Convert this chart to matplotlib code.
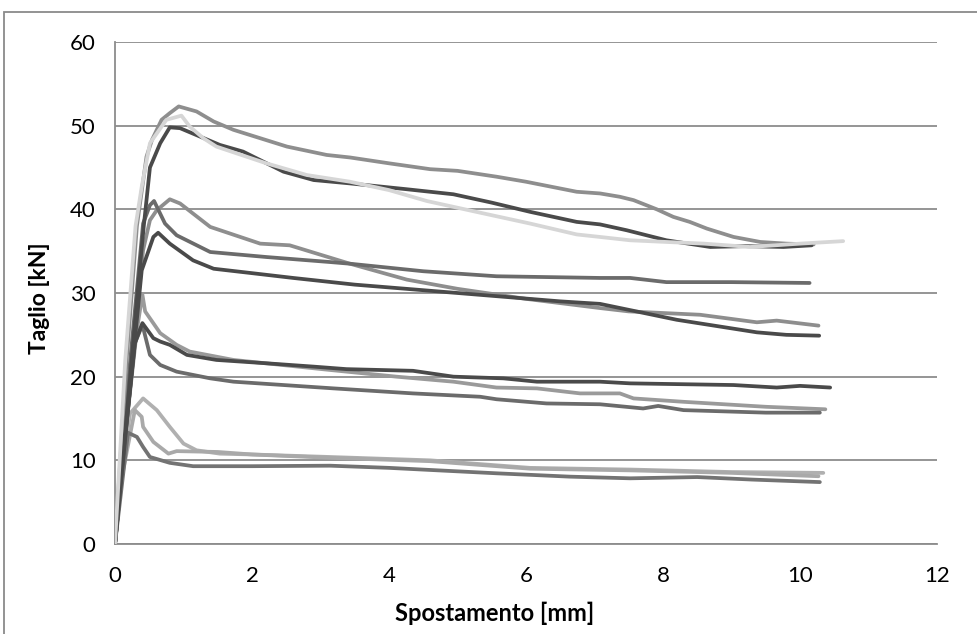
import matplotlib
matplotlib.use("Agg")
import matplotlib.pyplot as plt
from matplotlib.patches import Rectangle

# Shear (kN) vs displacement (mm) curves for twelve specimens
a_x = [0, 0.17, 0.32, 0.46, 0.54, 0.68, 0.8, 0.93, 1.19, 1.44, 1.73, 2.12, 2.51, 3.09, 3.43, 4.0, 4.6, 5.0, 5.57, 6.0, 6.74, 7.08, 7.37, 7.57, 7.91, 8.15, 8.39, 8.64, 9.03, 9.42, 9.8, 10.2]
a_y = [0, 22, 38, 46.3, 48.3, 50.7, 51.5, 52.3, 51.7, 50.5, 49.5, 48.5, 47.5, 46.5, 46.2, 45.5, 44.8, 44.6, 43.9, 43.3, 42.1, 41.9, 41.5, 41.1, 40.0, 39.1, 38.5, 37.7, 36.7, 36.1, 35.9, 35.8]

b_x = [0, 0.2, 0.34, 0.42, 0.51, 0.66, 0.8, 0.95, 1.24, 1.53, 1.87, 2.46, 2.9, 3.43, 4.26, 4.94, 5.5, 6.06, 6.74, 7.08, 7.47, 8.05, 8.69, 9.2, 9.76, 10.17]
b_y = [0, 18, 31, 38, 45, 47.9, 49.8, 49.7, 48.7, 47.7, 46.9, 44.5, 43.5, 43.1, 42.4, 41.8, 40.8, 39.7, 38.5, 38.2, 37.5, 36.3, 35.5, 35.6, 35.5, 35.7]

c_x = [0, 0.15, 0.3, 0.39, 0.51, 0.75, 0.97, 1.09, 1.29, 1.48, 2.21, 2.8, 3.43, 4.0, 4.55, 5.33, 6.06, 6.74, 7.08, 7.52, 8.05, 8.6, 9.27, 10.0, 10.63]
c_y = [0, 22, 38, 42.7, 47.9, 50.7, 51.2, 49.9, 48.5, 47.5, 45.5, 44.1, 43.3, 42.3, 41.0, 39.6, 38.3, 37.0, 36.7, 36.3, 36.1, 35.9, 35.5, 35.9, 36.2]

d_x = [0, 0.2, 0.41, 0.51, 0.61, 0.8, 0.95, 1.39, 2.12, 2.55, 3.43, 4.26, 5.0, 6.0, 7.08, 7.5, 8.54, 9.37, 9.66, 10.27]
d_y = [0, 18, 35.1, 38.7, 39.9, 41.2, 40.7, 37.9, 35.9, 35.7, 33.5, 31.6, 30.5, 29.3, 28.2, 27.8, 27.4, 26.5, 26.7, 26.1]

e_x = [0, 0.2, 0.41, 0.51, 0.57, 0.73, 0.9, 1.39, 2.21, 3.14, 3.43, 4.5, 5.57, 7.08, 7.52, 8.05, 9.0, 10.14]
e_y = [0, 20, 38.3, 40.5, 41.0, 38.3, 36.9, 34.9, 34.3, 33.7, 33.5, 32.6, 32.0, 31.8, 31.8, 31.3, 31.3, 31.2]

f_x = [0, 0.2, 0.39, 0.56, 0.63, 0.8, 1.14, 1.44, 1.97, 2.6, 3.5, 5.0, 6.5, 7.08, 8.2, 9.37, 9.8, 10.28]
f_y = [0, 17, 32.7, 36.7, 37.2, 35.9, 33.9, 32.9, 32.4, 31.8, 31.0, 30.0, 29.0, 28.7, 26.8, 25.3, 25.0, 24.9]

g_x = [0, 0.15, 0.32, 0.4, 0.44, 0.66, 0.9, 1.09, 1.73, 3.14, 4.11, 4.94, 5.57, 6.16, 6.79, 7.08, 7.37, 7.57, 8.29, 9.5, 10.37]
g_y = [0, 13, 25.6, 29.8, 27.8, 25.2, 23.8, 23.0, 22.0, 20.8, 20.0, 19.4, 18.7, 18.6, 18.0, 18.0, 18.0, 17.4, 17.0, 16.4, 16.1]

h_x = [0, 0.15, 0.29, 0.4, 0.56, 0.66, 0.8, 1.05, 1.48, 2.21, 2.9, 3.38, 4.35, 4.94, 5.67, 6.16, 7.08, 7.52, 9.03, 9.66, 10.0, 10.44]
h_y = [0, 13, 24.0, 26.4, 24.6, 24.2, 23.8, 22.6, 22.0, 21.6, 21.2, 20.9, 20.7, 20.0, 19.8, 19.4, 19.4, 19.2, 19.0, 18.7, 18.9, 18.7]

i_x = [0, 0.15, 0.29, 0.4, 0.51, 0.66, 0.9, 1.39, 1.73, 2.46, 3.19, 4.35, 5.33, 5.57, 6.3, 7.08, 7.71, 7.93, 8.3, 9.5, 10.29]
i_y = [0, 13, 24.0, 26.2, 22.6, 21.4, 20.6, 19.8, 19.4, 19.0, 18.6, 18.0, 17.6, 17.3, 16.8, 16.7, 16.2, 16.5, 16.0, 15.7, 15.7]

j_x = [0, 0.1, 0.22, 0.41, 0.61, 0.8, 1.0, 1.19, 1.53, 2.0, 3.14, 4.6, 6.06, 7.52, 9.0, 10.34]
j_y = [0, 9, 15.6, 17.4, 16.0, 14.0, 12.0, 11.2, 10.8, 10.7, 10.4, 10.0, 9.1, 8.9, 8.6, 8.5]

k_x = [0, 0.1, 0.29, 0.39, 0.41, 0.56, 0.78, 0.9, 1.5, 2.0, 3.14, 4.6, 6.06, 7.52, 9.0, 10.27]
k_y = [0, 8, 16.0, 15.2, 14.0, 12.2, 10.8, 11.1, 11.0, 10.7, 10.3, 9.9, 9.0, 8.8, 8.5, 8.1]

l_x = [0, 0.19, 0.32, 0.41, 0.51, 0.8, 1.14, 2.0, 3.14, 4.0, 4.6, 5.57, 6.64, 7.52, 8.5, 9.3, 10.29]
l_y = [0, 13.3, 12.8, 11.6, 10.4, 9.7, 9.3, 9.3, 9.36, 9.1, 8.85, 8.45, 8.05, 7.85, 8.0, 7.7, 7.4]

x_ticks = [0, 2, 4, 6, 8, 10, 12]
y_ticks = [0, 10, 20, 30, 40, 50, 60]
x_label = "Spostamento [mm]"
y_label = "Taglio [kN]"

DARK = "#4a4a4a"
MIDDARK = "#6b6b6b"
MID = "#8e8e8e"
LIGHTMID = "#b0b0b0"
LIGHT = "#d6d6d6"

series = [
    (j_x, j_y, LIGHTMID),
    (k_x, k_y, "#a9a9a9"),
    (l_x, l_y, "#737373"),
    (g_x, g_y, "#9a9a9a"),
    (i_x, i_y, MIDDARK),
    (h_x, h_y, DARK),
    (d_x, d_y, MID),
    (e_x, e_y, MIDDARK),
    (f_x, f_y, DARK),
    (a_x, a_y, MID),
    (b_x, b_y, DARK),
    (c_x, c_y, LIGHT),
]

plt.rcParams["font.family"] = ["Lato", "DejaVu Sans"]

fig = plt.figure(figsize=(9.78, 6.34), dpi=100)
ax = fig.add_axes([115 / 978, 90 / 634, 822 / 978, 502 / 634])

# outer chart frame
fig.patches.append(Rectangle((4 / 978, -0.1), 1.2, (634 - 12) / 634 + 0.1,
                             transform=fig.transFigure, fill=False,
                             edgecolor="#8a8a8a", linewidth=1.3))

for xs, ys, col in series:
    ax.plot(xs, ys, color=col, linewidth=2.7, solid_joinstyle="round",
            solid_capstyle="round", zorder=3)

ax.set_xlim(0, 12)
ax.set_ylim(0, 60)
ax.set_xticks(x_ticks)
ax.set_yticks(y_ticks)
ax.set_xticklabels([str(v) for v in x_ticks])
ax.set_yticklabels([str(v) for v in y_ticks])
ax.tick_params(axis="both", length=0, labelsize=16, colors="black")
ax.tick_params(axis="x", pad=16)
ax.tick_params(axis="y", pad=14)

ax.grid(axis="y", color="#8c8c8c", linewidth=1.3, zorder=1)
ax.set_axisbelow(True)
for side in ("top", "right"):
    ax.spines[side].set_visible(False)
for side in ("left", "bottom"):
    ax.spines[side].set_color("#8c8c8c")
    ax.spines[side].set_linewidth(1.3)

ax.set_xlabel(x_label, fontsize=17, fontweight="bold")
ax.xaxis.set_label_coords(0.462, -0.115)
ax.set_ylabel(y_label, fontsize=16.5, fontweight="bold")
ax.yaxis.set_label_coords(-0.079, 0.49)

fig.savefig("out.png", dpi=100)
